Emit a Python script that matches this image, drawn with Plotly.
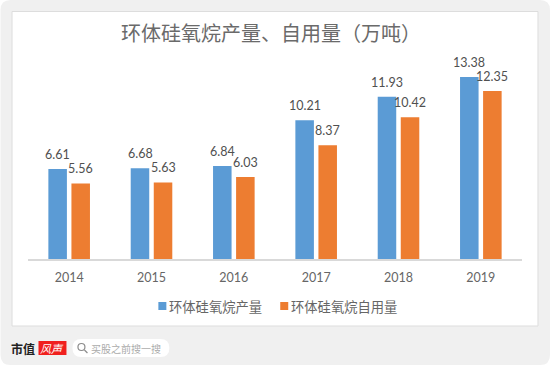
import plotly.graph_objects as go

years = ["2014", "2015", "2016", "2017", "2018", "2019"]
output_vals = [6.61, 6.68, 6.84, 10.21, 11.93, 13.38]
self_use_vals = [5.56, 5.63, 6.03, 8.37, 10.42, 12.35]
output_labels = ["6.61", "6.68", "6.84", "10.21", "11.93", "13.38"]
self_use_labels = ["5.56", "5.63", "6.03", "8.37", "10.42", "12.35"]
series_names = ["环体硅氧烷产量", "环体硅氧烷自用量"]
title_text = "环体硅氧烷产量、自用量（万吨）"

BLUE = "#5B9BD5"
ORANGE = "#ED7D31"
GREY = "#666666"
CJK = "Noto Sans CJK SC"
W, H = 550, 365
L, R, T, B = 27.5, 522, 55, 259

fig = go.Figure()
fig.add_bar(x=years, y=output_vals, name=series_names[0], marker_color=BLUE, marker_line_width=0)
fig.add_bar(x=years, y=self_use_vals, name=series_names[1], marker_color=ORANGE, marker_line_width=0)

ann = []
for i, (v, t, u, s) in enumerate(zip(output_vals, output_labels, self_use_vals, self_use_labels)):
    ann.append(dict(x=i, y=v, text=t, xref="x", yref="y", showarrow=False, xshift=-11.5, yshift=5,
                    yanchor="bottom", font=dict(family="Lato", size=12.5, color="#505050")))
    ann.append(dict(x=i, y=u, text=s, xref="x", yref="y", showarrow=False, xshift=11.5, yshift=5,
                    yanchor="bottom", font=dict(family="Lato", size=12.5, color="#505050")))


def px(x):
    return (x - L) / (R - L)


def py(y):
    return (B - y) / (B - T)


def text(x, y, s, size, color, family=CJK, anchor="left", **kw):
    ann.append(dict(x=px(x), y=py(y), text=s, xref="paper", yref="paper", showarrow=False, xanchor=anchor,
                    yanchor="middle", borderpad=0, font=dict(family=family, size=size, color=color), **kw))


def rect(x0, y0, x1, y1, fill, line=None):
    return dict(type="rect", xref="paper", yref="paper", layer="below", x0=px(x0), x1=px(x1), y0=py(y0), y1=py(y1),
                fillcolor=fill, line=dict(color=line or fill, width=1 if line else 0))


def rounded(x0, y0, x1, y1, r, fill):
    path = (f"M{px(x0 + r)},{py(y0)} L{px(x1 - r)},{py(y0)} Q{px(x1)},{py(y0)} {px(x1)},{py(y0 + r)} "
            f"L{px(x1)},{py(y1 - r)} Q{px(x1)},{py(y1)} {px(x1 - r)},{py(y1)} "
            f"L{px(x0 + r)},{py(y1)} Q{px(x0)},{py(y1)} {px(x0)},{py(y1 - r)} "
            f"L{px(x0)},{py(y0 + r)} Q{px(x0)},{py(y0)} {px(x0 + r)},{py(y0)} Z")
    return dict(type="path", xref="paper", yref="paper", layer="below", path=path, fillcolor=fill, line_width=0)


shapes = [
    rounded(0, 0, 550, 365, 10, "#F0F0F0"),
    rect(11.5, 11.5, 538, 326, "#FFFFFF", "#DDDDDD"),
    # legend swatches
    rect(158, 302, 166, 310, BLUE),
    rect(280, 302, 288, 310, ORANGE),
    # footer badge and search box
    rect(38, 341, 66, 355, "#F0201E"),
    rounded(72, 339, 169, 357, 9, "#FFFFFF"),
    dict(type="circle", xref="paper", yref="paper", x0=px(77.5), x1=px(84.5), y0=py(350.5), y1=py(343.5),
         line=dict(color="#8C8C8C", width=1.2)),
    dict(type="line", xref="paper", yref="paper", x0=px(84), x1=px(87), y0=py(350), y1=py(353),
         line=dict(color="#8C8C8C", width=1.2)),
]

text(168, 306, series_names[0], 13.3, GREY)
text(290, 306, series_names[1], 13.3, GREY)
text(9.5, 348, "<b>市值</b>", 12, "#222222")
text(52, 348, "<i>风声</i>", 11, "#FFFFFF", anchor="center")
text(90, 348, "买股之前搜一搜", 10, "#ABABAB")

fig.update_layout(
    width=W, height=H, autosize=False,
    margin=dict(l=L, r=W - R, t=T, b=H - B, pad=0),
    paper_bgcolor="#FFFFFF", plot_bgcolor="rgba(0,0,0,0)",
    title=dict(text=title_text, x=271 / W, xanchor="center", xref="container", y=1 - 33.5 / H, yanchor="middle",
               font=dict(family=CJK, size=20, color="#6A6A6A")),
    showlegend=False,
    barmode="group", bargap=0.44, bargroupgap=0.196,
    xaxis=dict(type="category", range=[-0.5, 5.5], autorange=False, showgrid=False, showline=True,
               linecolor="#D9D9D9", linewidth=1.5, zeroline=False,
               ticks="outside", ticklen=6, tickcolor="rgba(0,0,0,0)", tickfont=dict(family="Lato", size=12.5, color=GREY)),
    yaxis=dict(range=[0, 15], autorange=False, visible=False, fixedrange=True),
    shapes=shapes,
    annotations=ann,
)

fig.write_html("out.html", config=dict(displayModeBar=False),
               post_script="document.body.style.margin='0';document.body.style.overflow='hidden';")
